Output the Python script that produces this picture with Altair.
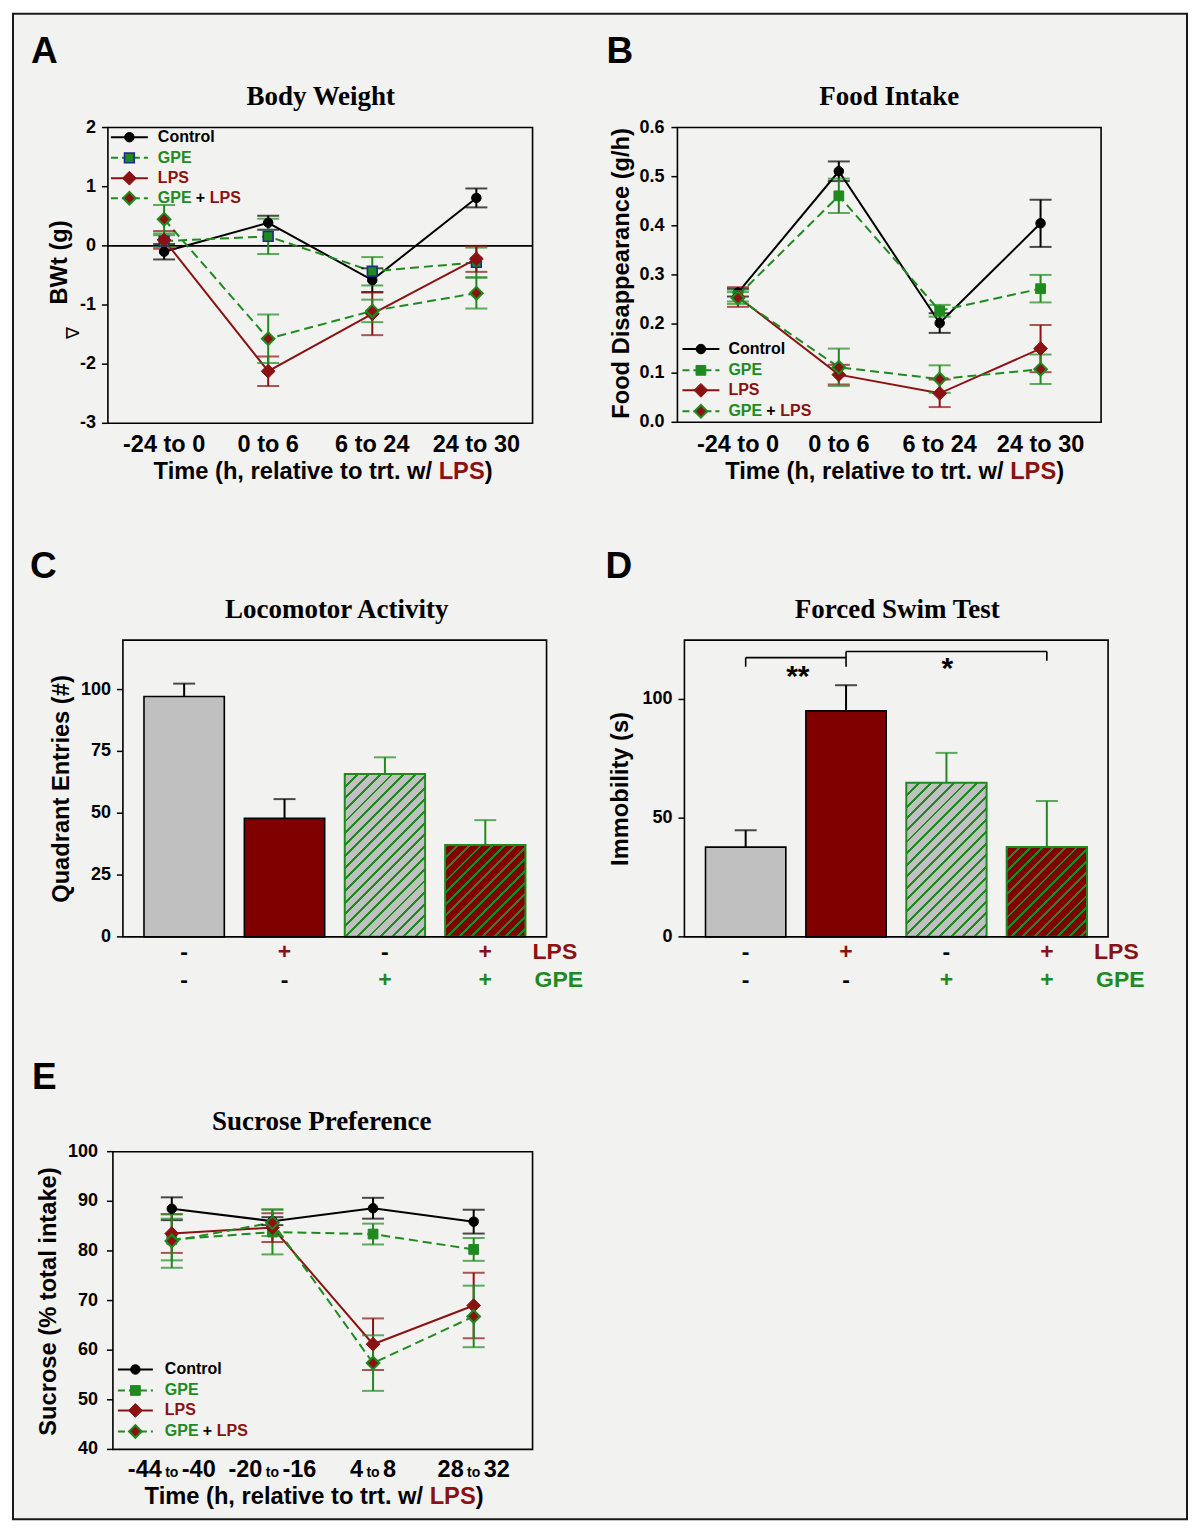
import altair as alt
import pandas as pd

# ----------------------------- data -----------------------------
time_bw = ["-24 to 0", "0 to 6", "6 to 24", "24 to 30"]
bw_control = [-0.10, 0.39, -0.58, 0.81]
bw_control_se = [0.13, 0.12, 0.20, 0.16]
bw_gpe = [0.08, 0.16, -0.43, -0.28]
bw_gpe_se = [0.10, 0.30, 0.24, 0.25]
bw_lps = [0.10, -2.12, -1.15, -0.22]
bw_lps_se = [0.15, 0.25, 0.36, 0.22]
bw_gpe_lps = [0.45, -1.57, -1.10, -0.80]
bw_gpe_lps_se = [0.24, 0.41, 0.19, 0.26]
bw_ticks = [-3, -2, -1, 0, 1, 2]

time_fi = ["-24 to 0", "0 to 6", "6 to 24", "24 to 30"]
fi_control = [0.264, 0.511, 0.202, 0.405]
fi_control_se = [0.008, 0.020, 0.020, 0.048]
fi_gpe = [0.258, 0.461, 0.227, 0.272]
fi_gpe_se = [0.012, 0.035, 0.012, 0.028]
fi_lps = [0.255, 0.097, 0.059, 0.150]
fi_lps_se = [0.020, 0.020, 0.028, 0.048]
fi_gpe_lps = [0.253, 0.112, 0.088, 0.108]
fi_gpe_lps_se = [0.012, 0.038, 0.028, 0.030]
fi_ticks = [0.0, 0.1, 0.2, 0.3, 0.4, 0.5, 0.6]

groups = ["Control", "LPS", "GPE", "GPE + LPS"]
lps_sign = ["-", "+", "-", "+"]
gpe_sign = ["-", "-", "+", "+"]
loco = [97.2, 47.9, 65.9, 37.1]
loco_se = [5.2, 7.8, 6.7, 10.1]
loco_ticks = [0, 25, 50, 75, 100]
fst = [37.8, 95.2, 64.9, 37.9]
fst_se = [7.1, 10.8, 12.6, 19.3]
fst_ticks = [0, 50, 100]

time_sp = ["-44 to -40", "-20 to -16", "4 to 8", "28 to 32"]
sp_control = [88.5, 86.0, 88.6, 85.9]
sp_control_se = [2.3, 0.8, 2.1, 2.4]
sp_gpe = [82.3, 83.8, 83.4, 80.3]
sp_gpe_se = [4.2, 4.5, 2.1, 2.3]
sp_lps = [83.5, 84.7, 61.2, 69.0]
sp_lps_se = [3.9, 2.9, 5.2, 6.6]
sp_gpe_lps = [82.0, 85.7, 57.4, 66.8]
sp_gpe_lps_se = [5.4, 2.7, 5.6, 6.2]
sp_ticks = [40, 50, 60, 70, 80, 90, 100]

series_names = ["Control", "GPE", "LPS", "GPE + LPS"]

# ----------------------------- style -----------------------------
BLACK = "#000000"
GREEN = "#1f8a1f"
RED = "#8b1212"
BAR_RED = "#800000"
GRAY = "#c0c0c0"
BLUE = "#1c2a8c"
BG = "#f2f2f0"
FONT = "Liberation Sans"
SERIF = "Liberation Serif"
OFF = 13
CW, CH = 1175, 1507
ONE = pd.DataFrame({"k": [0]})
TICK_FS = 23.5
TITLE_FS = 23.7


def px(v):
    return v - OFF


def sty(name, gpe_stroke=None):
    s = {
        "Control": dict(color=BLACK, dash=False, shape="circle", fill=BLACK, stroke=BLACK, sw=1, size=90, text=BLACK),
        "GPE": dict(color=GREEN, dash=True, shape="square", fill=GREEN, stroke=GREEN, sw=1, size=95, text=GREEN),
        "LPS": dict(color=RED, dash=False, shape="diamond", fill=RED, stroke=RED, sw=1, size=190, text=RED),
        "GPE + LPS": dict(color=GREEN, dash=True, shape="diamond", fill=RED, stroke=GREEN, sw=2, size=160, text=GREEN),
    }[name]
    if name == "GPE" and gpe_stroke:
        s = dict(s, stroke=gpe_stroke, sw=1.6)
    return s


def T(text, x, y, size, color=BLACK, weight="bold", align="left", baseline="alphabetic", font=FONT, angle=None):
    kw = dict(text=text, font=font, fontSize=size, fontWeight=weight, color=color, align=align, baseline=baseline)
    if angle is not None:
        kw["angle"] = angle
    return alt.Chart(ONE).mark_text(**kw).encode(x=alt.value(px(x)), y=alt.value(px(y)))


def yaxis_marks(ysc, L, values, fmt=str, gap=12):
    df = pd.DataFrame({"t": values, "lab": [fmt(v) for v in values]})
    base = alt.Chart(df)
    ticks = base.mark_rule(color=BLACK, strokeWidth=1.5).encode(
        x=alt.value(px(L - 6)), x2=alt.value(px(L)), y=alt.Y("t:Q", scale=ysc, axis=None))
    labels = base.mark_text(font=FONT, fontSize=18, fontWeight="bold", align="right", baseline="middle",
                            color=BLACK).encode(
        x=alt.value(px(L - gap)), y=alt.Y("t:Q", scale=ysc, axis=None), text="lab:N")
    return [ticks, labels]


def frame(L, R, T_, B):
    return alt.Chart(ONE).mark_rect(fill="transparent", stroke=BLACK, strokeWidth=1.6).encode(
        x=alt.value(px(L)), x2=alt.value(px(R)), y=alt.value(px(T_)), y2=alt.value(px(B)))


def line_panel(cats, data, box, ydom, yticks, fmt, pad, gap=12, gpe_stroke=None, zero_line=False):
    L, R, T_, B = box
    xsc = alt.Scale(type="point", domain=cats, range=[px(L), px(R)], padding=pad)
    ysc = alt.Scale(domain=ydom, range=[px(B), px(T_)], nice=False, zero=False)
    X = alt.X("cat:N", scale=xsc, axis=None)
    lines, errs, pts = [], [], []
    for name, vals, se in data:
        s = sty(name, gpe_stroke)
        df = pd.DataFrame({"cat": cats, "idx": list(range(len(cats))), "v": vals,
                           "lo": [v - e for v, e in zip(vals, se)],
                           "hi": [v + e for v, e in zip(vals, se)]})
        base = alt.Chart(df)
        lkw = dict(color=s["color"], strokeWidth=2)
        if s["dash"]:
            lkw["strokeDash"] = [9, 5]
        lines.append(base.mark_line(**lkw).encode(x=X, y=alt.Y("v:Q", scale=ysc, axis=None), order="idx:Q"))
        errs.append(base.mark_rule(color=s["color"], strokeWidth=2).encode(
            x=X, y=alt.Y("lo:Q", scale=ysc, axis=None), y2="hi:Q"))
        for f in ("lo", "hi"):
            errs.append(base.mark_tick(orient="horizontal", size=22, thickness=2, color=s["color"]).encode(
                x=X, y=alt.Y(f + ":Q", scale=ysc, axis=None)))
        pts.append(base.mark_point(shape=s["shape"], filled=True, fill=s["fill"], stroke=s["stroke"],
                                   strokeWidth=s["sw"], size=s["size"], opacity=1).encode(
            x=X, y=alt.Y("v:Q", scale=ysc, axis=None)))
    layers = yaxis_marks(ysc, L, yticks, fmt, gap)
    if zero_line:
        layers.append(alt.Chart(pd.DataFrame({"z": [0]})).mark_rule(color=BLACK, strokeWidth=1.6).encode(
            x=alt.value(px(L)), x2=alt.value(px(R)), y=alt.Y("z:Q", scale=ysc, axis=None)))
    layers += lines + errs + pts
    return layers, X


def hatch(base, w, h, spacing=11.6, frac=0.25):
    r = w / h
    b = (r + 1) / (r * r + 1)
    a = r * b
    total = w + h
    stops = []
    k = 0
    while k * spacing < total:
        t0 = k * spacing / total
        t1 = min((k * spacing + frac * spacing) / total, 1.0)
        t2 = min((k + 1) * spacing / total, 1.0)
        stops += [alt.GradientStop(offset=round(t0, 5), color=GREEN),
                  alt.GradientStop(offset=round(t1, 5), color=GREEN),
                  alt.GradientStop(offset=round(t1, 5), color=base),
                  alt.GradientStop(offset=round(t2, 5), color=base)]
        k += 1
    return alt.LinearGradient(gradient="linear", stops=stops, x1=0, y1=0, x2=round(a, 5), y2=round(b, 5))


PI, PO = 0.2, 0.21


def bar_panel(vals, se, box, ymax, yticks):
    L, R, T_, B = box
    xsc = alt.Scale(type="band", domain=groups, range=[px(L), px(R)], paddingInner=PI, paddingOuter=PO)
    ysc = alt.Scale(domain=[0, ymax], range=[px(B), px(T_)], nice=False)
    X = alt.X("cat:N", scale=xsc, axis=None)
    df = pd.DataFrame({"cat": groups, "v": vals, "hi": [v + e for v, e in zip(vals, se)],
                       "lps": lps_sign, "gpe": gpe_sign})
    base = alt.Chart(df)
    step = (R - L) / (len(groups) - PI + 2 * PO)
    bw = step * (1 - PI)
    layers = yaxis_marks(ysc, L, yticks)
    ecol = alt.condition("datum.gpe == '+'", alt.value(GREEN), alt.value(BLACK))
    layers.append(base.mark_rule(strokeWidth=2).encode(
        x=X, y=alt.Y("v:Q", scale=ysc, axis=None), y2="hi:Q", color=ecol))
    layers.append(base.mark_tick(orient="horizontal", size=22, thickness=2).encode(
        x=X, y=alt.Y("hi:Q", scale=ysc, axis=None), color=ecol))
    for i, g in enumerate(groups):
        h = vals[i] / ymax * (B - T_)
        if g == "Control":
            mk = dict(fill=GRAY, stroke=BLACK, strokeWidth=1.6)
        elif g == "LPS":
            mk = dict(fill=BAR_RED, stroke=BLACK, strokeWidth=1.6)
        elif g == "GPE":
            mk = dict(fill=hatch(GRAY, bw, h), stroke=GREEN, strokeWidth=2)
        else:
            mk = dict(fill=hatch(BAR_RED, bw, h), stroke=GREEN, strokeWidth=2)
        layers.append(base.transform_filter(alt.datum.cat == g).mark_bar(**mk).encode(
            x=X, y=alt.Y("v:Q", scale=ysc, axis=None)))
    layers.append(base.mark_text(font=FONT, fontSize=23, fontWeight="bold", baseline="middle").encode(
        x=X, y=alt.value(px(952)), text="lps:N",
        color=alt.condition("datum.lps == '+'", alt.value(RED), alt.value(BLACK))))
    layers.append(base.mark_text(font=FONT, fontSize=23, fontWeight="bold", baseline="middle").encode(
        x=X, y=alt.value(px(980)), text="gpe:N",
        color=alt.condition("datum.gpe == '+'", alt.value(GREEN), alt.value(BLACK))))
    centers = [L + PO * step + k * step + bw / 2 for k in range(len(groups))]
    return layers, ysc, centers


def legend(rows, x1, x2, xs, xt, gpe_stroke=None):
    out = []
    for name, y in zip(series_names, rows):
        s = sty(name, gpe_stroke)
        rkw = dict(color=s["color"], strokeWidth=2)
        if s["dash"]:
            rkw["strokeDash"] = [7, 4]
        out.append(alt.Chart(ONE).mark_rule(**rkw).encode(
            x=alt.value(px(x1)), x2=alt.value(px(x2)), y=alt.value(px(y))))
        out.append(alt.Chart(ONE).mark_point(shape=s["shape"], filled=True, fill=s["fill"], stroke=s["stroke"],
                                             strokeWidth=s["sw"], size=s["size"], opacity=1).encode(
            x=alt.value(px(xs)), y=alt.value(px(y))))
        if name == "GPE + LPS":
            out += [T("GPE", xt, y, 16, GREEN, baseline="middle"),
                    T("+", xt + 38, y, 16, BLACK, baseline="middle"),
                    T("LPS", xt + 52, y, 16, RED, baseline="middle")]
        else:
            out.append(T(name, xt, y, 16, s["text"], baseline="middle"))
    return out


def xtitle(split, y):
    return [T("Time (h, relative to trt. w/", split - 0.278 * TITLE_FS, y, TITLE_FS, BLACK, align="right"),
            T("LPS", split, y, TITLE_FS, RED),
            T(")", split + 1.945 * TITLE_FS, y, TITLE_FS, BLACK)]


layers = []

# ---------------- Panel A : Body Weight ----------------
boxA = (108, 533, 127, 423)
pA, XA = line_panel(time_bw,
                    [("Control", bw_control, bw_control_se), ("GPE", bw_gpe, bw_gpe_se),
                     ("LPS", bw_lps, bw_lps_se), ("GPE + LPS", bw_gpe_lps, bw_gpe_lps_se)],
                    boxA, [-3, 2], bw_ticks, str, 0.54, gpe_stroke=BLUE, zero_line=True)
labA = alt.Chart(pd.DataFrame({"cat": time_bw})).mark_text(
    font=FONT, fontSize=TICK_FS, fontWeight="bold", align="center", baseline="alphabetic").encode(
    x=XA, y=alt.value(px(452)), text="cat:N")
layers.append(alt.layer(*pA, labA, frame(*boxA)))
layers += legend([136.7, 157.3, 177.7, 197.7], 111, 148, 129.5, 158, gpe_stroke=BLUE)
layers += xtitle(439, 479)
layers.append(T("BWt (g)", 60, 262, TITLE_FS, align="center", baseline="middle", angle=270))
layers.append(T("\u2207", 74, 333, 18, weight="normal", align="center", baseline="middle", angle=270))
layers.append(T("Body Weight", 321, 104, 27, font=SERIF, align="center"))
layers.append(T("A", 31, 62, 37))

# ---------------- Panel B : Food Intake ----------------
boxB = (678, 1102, 127, 422)
pB, XB = line_panel(time_fi,
                    [("Control", fi_control, fi_control_se), ("GPE", fi_gpe, fi_gpe_se),
                     ("LPS", fi_lps, fi_lps_se), ("GPE + LPS", fi_gpe_lps, fi_gpe_lps_se)],
                    boxB, [0, 0.6], fi_ticks, lambda v: f"{v:.1f}", 0.6, gap=13)
labB = alt.Chart(pd.DataFrame({"cat": time_fi})).mark_text(
    font=FONT, fontSize=TICK_FS, fontWeight="bold", align="center", baseline="alphabetic").encode(
    x=XB, y=alt.value(px(452)), text="cat:N")
layers.append(alt.layer(*pB, labB, frame(*boxB)))
layers += legend([348.7, 370, 390, 411], 683, 720, 701.5, 729)
layers += xtitle(1011, 479)
layers.append(T("Food Disappearance (g/h)", 623, 273, TITLE_FS, align="center", baseline="middle", angle=270))
layers.append(T("Food Intake", 890, 104, 27, font=SERIF, align="center"))
layers.append(T("B", 607, 62, 37))

# ---------------- Panel C : Locomotor Activity ----------------
boxC = (123, 547, 640, 937)
cl, _, _ = bar_panel(loco, loco_se, boxC, 120, loco_ticks)
layers.append(alt.layer(*cl, frame(*boxC)))
layers.append(T("LPS", 533, 952, 23, RED, baseline="middle"))
layers.append(T("GPE", 535, 980, 23, GREEN, baseline="middle"))
layers.append(T("Quadrant Entries (#)", 62, 789, TITLE_FS, align="center", baseline="middle", angle=270))
layers.append(T("Locomotor Activity", 337, 618, 27, font=SERIF, align="center"))
layers.append(T("C", 30, 578, 37))

# ---------------- Panel D : Forced Swim Test ----------------
boxD = (685, 1109, 640, 937)
dl, ysD, cD = bar_panel(fst, fst_se, boxD, 125, fst_ticks)
br = []
segs = [(cD[0], cD[1], 117.6, 117.6), (cD[0], cD[0], 117.6, 113.8),
        (cD[1], cD[3], 120.2, 120.2), (cD[1], cD[1], 120.2, 113.8), (cD[3], cD[3], 120.2, 116.3)]
for xa, xb, ya, yb in segs:
    sd = pd.DataFrame({"ya": [ya], "yb": [yb]})
    br.append(alt.Chart(sd).mark_rule(color=BLACK, strokeWidth=1.6).encode(
        x=alt.value(px(xa)), x2=alt.value(px(xb)),
        y=alt.Y("ya:Q", scale=ysD, axis=None), y2="yb:Q"))
layers.append(alt.layer(*dl, *br, frame(*boxD)))
layers.append(T("**", (cD[0] + cD[1]) / 2 + 2, 686, 30, align="center"))
layers.append(T("*", cD[2] + 1, 678, 30, align="center"))
layers.append(T("LPS", 1095, 952, 23, RED, baseline="middle"))
layers.append(T("GPE", 1097, 980, 23, GREEN, baseline="middle"))
layers.append(T("Immobility (s)", 622, 789, TITLE_FS, align="center", baseline="middle", angle=270))
layers.append(T("Forced Swim Test", 898, 618, 27, font=SERIF, align="center"))
layers.append(T("D", 606, 578, 37))

# ---------------- Panel E : Sucrose Preference ----------------
boxE = (113, 533, 1152, 1450)
pE, XE = line_panel(time_sp,
                    [("Control", sp_control, sp_control_se), ("GPE", sp_gpe, sp_gpe_se),
                     ("LPS", sp_lps, sp_lps_se), ("GPE + LPS", sp_gpe_lps, sp_gpe_lps_se)],
                    boxE, [40, 100], sp_ticks, str, 0.585, gap=15)
lab_df = pd.DataFrame({"cat": time_sp,
                       "left": [c.split(" to ")[0] for c in time_sp],
                       "right": [c.split(" to ")[1] for c in time_sp]})
lb = alt.Chart(lab_df)
labE = [
    lb.mark_text(font=FONT, fontSize=TICK_FS, fontWeight="bold", align="right", baseline="alphabetic",
                 dx=-10).encode(x=XE, y=alt.value(px(1478)), text="left:N"),
    lb.mark_text(font=FONT, fontSize=14, fontWeight="bold", align="center", baseline="alphabetic",
                 text="to").encode(x=XE, y=alt.value(px(1478))),
    lb.mark_text(font=FONT, fontSize=TICK_FS, fontWeight="bold", align="left", baseline="alphabetic",
                 dx=10).encode(x=XE, y=alt.value(px(1478)), text="right:N"),
]
layers.append(alt.layer(*pE, *labE, frame(*boxE)))
layers += legend([1370, 1391, 1411, 1432], 118, 153, 135.5, 165)
layers += xtitle(430, 1505)
layers.append(T("Sucrose (% total intake)", 49, 1302, TITLE_FS, align="center", baseline="middle", angle=270))
layers.append(T("Sucrose Preference", 322, 1130, 27, font=SERIF, align="center"))
layers.append(T("E", 32, 1089, 37))

chart = alt.layer(*layers).resolve_scale(x="independent", y="independent").properties(
    width=CW, height=CH, background="white", padding=5
).configure_view(stroke="#1a1a1a", strokeWidth=2, fill=BG)

chart.save("out.html", embed_options={"renderer": "svg", "actions": False})
